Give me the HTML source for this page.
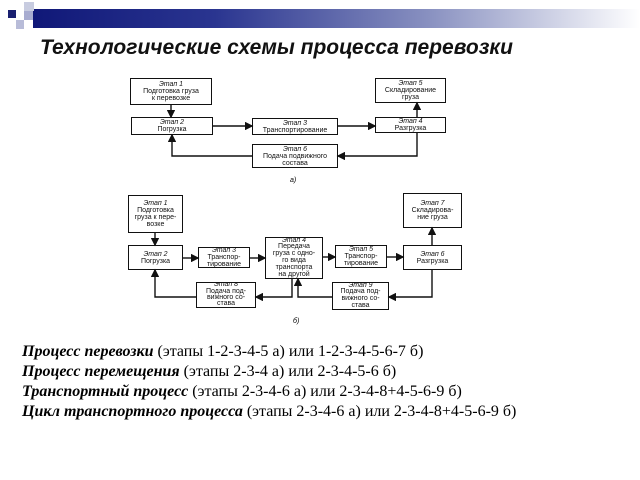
<!DOCTYPE html><html><head><meta charset="utf-8"><style>
body{margin:0;width:640px;height:480px;background:#fff;position:relative;overflow:hidden;font-family:"Liberation Sans",sans-serif}
.b{position:absolute;border:1.6px solid #111;box-sizing:border-box;text-align:center;font-size:7px;line-height:7px;color:#111;display:flex;flex-direction:column;justify-content:center;overflow:hidden}
.b i{display:block}
.t{position:absolute;left:22px;font-family:"Liberation Serif",serif;font-size:16px;color:#000;white-space:nowrap}
</style></head><body>
<div style="position:absolute;left:33px;top:9px;width:607px;height:19px;background:linear-gradient(90deg,#101878,#2a3590 30%,#8890c0 65%,#fff)"></div>
<div style="position:absolute;left:8px;top:10px;width:8px;height:8px;background:#1a2070"></div>
<div style="position:absolute;left:24px;top:2px;width:10px;height:9px;background:#c8cce0"></div>
<div style="position:absolute;left:24px;top:11px;width:9px;height:9px;background:#a8acd0"></div>
<div style="position:absolute;left:16px;top:20px;width:8px;height:9px;background:#b8bcd8"></div>
<div style="position:absolute;left:40px;top:36px;font-size:21px;font-style:italic;font-weight:bold;color:#111;white-space:nowrap">Технологические схемы процесса перевозки</div>
<svg style="position:absolute;left:0;top:0" width="640" height="480">
<defs><marker id="a" markerWidth="6" markerHeight="6" refX="5" refY="3" orient="auto"><path d="M0,0L6,3L0,6z" fill="#111"/></marker></defs>
<g stroke="#111" stroke-width="1.4" fill="none" marker-end="url(#a)">
<line x1="171" y1="105" x2="171" y2="117"/>
<line x1="213" y1="126" x2="252" y2="126"/>
<line x1="338" y1="126" x2="375" y2="126"/>
<line x1="417" y1="117" x2="417" y2="103"/>
<polyline points="252,156 172,156 172,135"/>
<polyline points="417,133 417,156 338,156"/>
<line x1="155" y1="233" x2="155" y2="245"/>
<line x1="183" y1="258" x2="198" y2="258"/>
<line x1="250" y1="258" x2="265" y2="258"/>
<line x1="323" y1="257" x2="335" y2="257"/>
<line x1="387" y1="257" x2="403" y2="257"/>
<line x1="432" y1="245" x2="432" y2="228"/>
<polyline points="196,297 155,297 155,270"/>
<polyline points="292,279 292,297 256,297"/>
<polyline points="332,297 298,297 298,279"/>
<polyline points="432,270 432,297 389,297"/>
</g></svg>
<div class="b" style="left:130px;top:78px;width:82px;height:27px"><i>Этап 1</i>Подготовка груза<br>к перевозке</div>
<div class="b" style="left:375px;top:78px;width:71px;height:25px"><i>Этап 5</i>Складирование<br>груза</div>
<div class="b" style="left:131px;top:117px;width:82px;height:18px"><i>Этап 2</i>Погрузка</div>
<div class="b" style="left:252px;top:118px;width:86px;height:17px"><i>Этап 3</i>Транспортирование</div>
<div class="b" style="left:375px;top:117px;width:71px;height:16px"><i>Этап 4</i>Разгрузка</div>
<div class="b" style="left:252px;top:144px;width:86px;height:24px"><i>Этап 6</i>Подача подвижного<br>состава</div>
<div style="position:absolute;left:290px;top:177px;font-size:7px;font-style:italic">а)</div>
<div class="b" style="left:128px;top:195px;width:55px;height:38px"><i>Этап 1</i>Подготовка<br>груза к пере-<br>возке</div>
<div class="b" style="left:403px;top:193px;width:59px;height:35px"><i>Этап 7</i>Складирова-<br>ние груза</div>
<div class="b" style="left:128px;top:245px;width:55px;height:25px"><i>Этап 2</i>Погрузка</div>
<div class="b" style="left:198px;top:247px;width:52px;height:21px"><i>Этап 3</i>Транспор-<br>тирование</div>
<div class="b" style="left:265px;top:237px;width:58px;height:42px;line-height:6.8px"><i>Этап 4</i>Передача<br>груза с одно-<br>го вида<br>транспорта<br>на другой</div>
<div class="b" style="left:335px;top:245px;width:52px;height:23px"><i>Этап 5</i>Транспор-<br>тирование</div>
<div class="b" style="left:403px;top:245px;width:59px;height:25px"><i>Этап 6</i>Разгрузка</div>
<div class="b" style="left:196px;top:282px;width:60px;height:26px;line-height:6.4px"><i>Этап 8</i>Подача под-<br>вижного со-<br>става</div>
<div class="b" style="left:332px;top:282px;width:57px;height:28px;line-height:6.6px"><i>Этап 9</i>Подача под-<br>вижного со-<br>става</div>
<div style="position:absolute;left:293px;top:318px;font-size:7px;font-style:italic">б)</div>
<div class="t" style="top:343px"><b><i>Процесс перевозки</i></b> (этапы 1-2-3-4-5 а) или 1-2-3-4-5-6-7 б)</div>
<div class="t" style="top:363px"><b><i>Процесс перемещения</i></b> (этапы 2-3-4 а) или 2-3-4-5-6 б)</div>
<div class="t" style="top:383px"><b><i>Транспортный процесс</i></b> (этапы 2-3-4-6 а) или 2-3-4-8+4-5-6-9 б)</div>
<div class="t" style="top:403px"><b><i>Цикл транспортного процесса</i></b> (этапы 2-3-4-6 а) или 2-3-4-8+4-5-6-9 б)</div>
</body></html>
